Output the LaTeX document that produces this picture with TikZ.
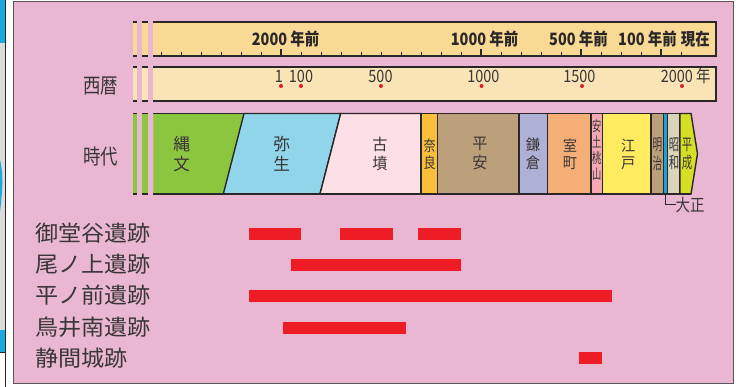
\documentclass[tikz,border=0pt]{standalone}
\usepackage{fontspec}
\setmainfont{Noto Sans CJK JP}
\definecolor{panelpink}{HTML}{E9B7D1}
\definecolor{panelline}{HTML}{5A5458}
\definecolor{topfill}{HTML}{F9DA95}
\definecolor{secfill}{HTML}{FAE4B6}
\definecolor{barline}{HTML}{2B2728}
\definecolor{txt}{HTML}{3A3637}
\definecolor{sitered}{HTML}{EE1C25}
\definecolor{dotred}{HTML}{D81E2C}
\definecolor{cJomon}{HTML}{8CC63F}
\definecolor{cYayoi}{HTML}{90D5E9}
\definecolor{cKofun}{HTML}{FDE0E5}
\definecolor{cNara}{HTML}{F9BE3A}
\definecolor{cHeian}{HTML}{BCA07B}
\definecolor{cKamakura}{HTML}{AFB0D6}
\definecolor{cMuro}{HTML}{F4AE76}
\definecolor{cAzu}{HTML}{F4A8B3}
\definecolor{cEdo}{HTML}{FFEB5F}
\definecolor{cMeiji}{HTML}{BCA07B}
\definecolor{cTaisho}{HTML}{1AA3D6}
\definecolor{cShowa}{HTML}{DCD3BA}
\definecolor{cHeisei}{HTML}{D5DF26}
\definecolor{fragblue}{HTML}{1CA8E0}
\definecolor{fraggray}{HTML}{DCDCDC}
\newcommand\myhs[2]{\scalebox{#1}[1]{#2}}
\newcommand\vtext[4]{\scalebox{#1}[1]{\fontsize{#2}{#3}\selectfont\begin{tabular}{@{}c@{}}#4\end{tabular}}}
\begin{document}
\begin{tikzpicture}[x=1pt,y=-1pt,
  barln/.style={draw=barline,line width=1.8pt},
  sepln/.style={draw=barline,line width=1.4pt},
  toplbl/.style={anchor=west,inner sep=0,text=barline,font=\bfseries\fontsize{17}{17}\selectfont},
  numlbl/.style={inner sep=0,text=txt,font=\fontsize{17}{17}\selectfont},
  rowlbl/.style={inner sep=0,text=txt,font=\fontsize{21}{21}\selectfont},
  sitelbl/.style={anchor=west,inner sep=0,text=txt,font=\fontsize{22}{22}\selectfont},
  ptext/.style={inner sep=0,text=txt},
  sitebar/.style={fill=sitered},
  dot/.style={circle,fill=dotred,inner sep=0,minimum size=4pt}]
\useasboundingbox (0,0) rectangle (744,387);
\fill[white] (0,0) rectangle (744,387);
% fragment of neighbouring picture
\fill[fraggray] (0,0) rectangle (5.5,352);
\fill[fragblue] (0,0) rectangle (5.5,43);
\fill[fragblue] (0,160) .. controls (4,175) and (2,195) .. (0,212) -- cycle;
\fill[fragblue] (0,330) rectangle (4.5,352);
\draw[barline,line width=0.8pt] (0,352) -- (5.5,352);
\draw[barline,line width=1pt] (5.8,0) -- (5.8,387);
% panel
\filldraw[fill=panelpink,draw=panelline,line width=1.2pt] (13.5,1.5) rectangle (733.3,383.5);

% ---- top bar (years before present)
\foreach \a/\b in {133.3/137,142.3/147.8}{
  \fill[topfill] (\a,22) rectangle (\b,56);
  \draw[barln] (\a,22) -- (\b,22) (\a,56) -- (\b,56);
  \fill[secfill] (\a,67) rectangle (\b,101);
  \draw[barln] (\a,67) -- (\b,67) (\a,101) -- (\b,101);
  \fill[cJomon] (\a,113.5) rectangle (\b,194);
  \draw[barln] (\a,113.5) -- (\b,113.5) (\a,194) -- (\b,194);
}
\fill[topfill] (153.3,22) rectangle (716,56);
\draw[barln] (153.3,22) -- (716,22) -- (716,56) -- (153.3,56);
\foreach \i in {0,...,26}{
  \draw[barline,line width=1pt] (161+20*\i,56) -- (161+20*\i,52.5);
}
\foreach \xx in {281,481,581,661}{
  \draw[barline,line width=1.2pt] (\xx,56) -- (\xx,49.5);
}
\node[toplbl] (y2000) at (251.7,39) {\myhs{0.85}{2000 年前}};
\node[toplbl] (y1000) at (450.7,39) {\myhs{0.85}{1000 年前}};
\node[toplbl] (y500) at (549,39) {\myhs{0.85}{500 年前}};
\node[toplbl] (y100) at (618,39) {\myhs{0.85}{100 年前}};
\node[toplbl] (ynow) at (680.7,39) {\myhs{0.85}{現在}};

% ---- second bar (AD)
\fill[secfill] (153.3,67) rectangle (716,101);
\draw[barln] (153.3,67) -- (716,67) -- (716,101) -- (153.3,101);
\node[numlbl] (a1) at (279,76) {\myhs{0.85}{1}};
\node[numlbl] (a100) at (301,76) {\myhs{0.85}{100}};
\node[numlbl] (a500) at (380.5,76) {\myhs{0.85}{500}};
\node[numlbl] (a1000) at (483.3,76) {\myhs{0.85}{1000}};
\node[numlbl] (a1500) at (579.3,76) {\myhs{0.85}{1500}};
\node[numlbl,anchor=west] (a2000) at (660.7,76) {\myhs{0.85}{2000 年}};
\foreach \n/\xx in {d1/281,d100/301,d500/381,d1000/481.5,d1500/582,d2000/682}{
  \node[dot] (\n) at (\xx,86) {};
}

% ---- row labels
\node[rowlbl] (seireki) at (100.8,86.5) {\myhs{0.83}{西暦}};
\node[rowlbl] (jidai) at (100.8,157) {\myhs{0.83}{時代}};

% ---- period blocks
\fill[cJomon] (153.3,113.5) -- (244,113.5) -- (223.3,194) -- (153.3,194) -- cycle;
\draw[sepln,line width=1.8pt] (153.3,113.5) -- (244,113.5) (153.3,194) -- (223.3,194);
\filldraw[fill=cYayoi,sepln] (244,113.5) -- (340.7,113.5) -- (320,194) -- (223.3,194) -- cycle;
\filldraw[fill=cKofun,sepln] (340.7,113.5) -- (421,113.5) -- (421,194) -- (320,194) -- cycle;
\foreach \c/\a/\b in {cNara/421/437.7,cHeian/437.7/519,cKamakura/519/547.3,cMuro/547.3/591,cAzu/591/602.3,cEdo/602.3/651,cMeiji/651/663.3,cTaisho/663.3/667.7,cShowa/667.7/680}{
  \filldraw[fill=\c,sepln] (\a,113.5) rectangle (\b,194);
}
\filldraw[fill=cHeisei,sepln] (680,113.5) -- (691,113.5) -- (697.5,153.7) -- (691,194) -- (680,194) -- cycle;
\draw[barline,line width=1.8pt] (153.3,113.5) -- (691,113.5) (153.3,194) -- (691,194);

\node[ptext] (tJomon) at (181.7,156) {\vtext{0.98}{17}{17}{縄\\文}};
\node[ptext] (tYayoi) at (281.7,156) {\vtext{0.98}{17}{17}{弥\\生}};
\node[ptext] (tKofun) at (380,156) {\vtext{0.95}{16}{17}{古\\墳}};
\node[ptext] (tNara) at (429.5,156) {\vtext{0.8}{15}{16}{奈\\良}};
\node[ptext] (tHeian) at (480,155.5) {\vtext{0.95}{16}{17}{平\\安}};
\node[ptext] (tKamakura) at (533,156) {\vtext{0.95}{15}{17}{鎌\\倉}};
\node[ptext] (tMuro) at (570,156) {\vtext{0.95}{15}{17}{室\\町}};
\node[ptext] (tAzu) at (596.7,152) {\vtext{0.66}{14}{15}{安\\土\\桃\\山}};
\node[ptext] (tEdo) at (628.3,156) {\vtext{0.95}{15}{17}{江\\戸}};
\node[ptext] (tMeiji) at (657.3,156) {\vtext{0.6}{16}{17}{明\\治}};
\node[ptext] (tShowa) at (674,156) {\vtext{0.65}{16}{17}{昭\\和}};
\node[ptext] (tHeisei) at (687,156) {\vtext{0.65}{16}{17}{平\\成}};

% Taisho leader
\coordinate (taishoBottom) at (665.5,194);
\node[ptext,anchor=west,font=\fontsize{17}{17}\selectfont] (taisho) at (675.5,205) {\myhs{0.85}{大正}};
\draw[barline,line width=1pt] (taishoBottom) |- (taisho.west);

% ---- sites
\node[sitelbl] (s1) at (35.3,233.5) {\myhs{1.05}{御堂谷遺跡}};
\node[sitelbl] (s2) at (35.3,264.5) {\myhs{1.05}{尾ノ上遺跡}};
\node[sitelbl] (s3) at (35.3,295.5) {\myhs{1.05}{平ノ前遺跡}};
\node[sitelbl] (s4) at (35.3,327) {\myhs{1.05}{鳥井南遺跡}};
\node[sitelbl] (s5) at (35.3,358) {\myhs{1.05}{静間城跡}};
\fill[sitebar] (248.9,228) rectangle (300.9,239.7);
\fill[sitebar] (340.3,228) rectangle (393.1,239.7);
\fill[sitebar] (418.4,228) rectangle (460.5,239.7);
\fill[sitebar] (291,259) rectangle (460.9,270.7);
\fill[sitebar] (248.9,290) rectangle (612.4,301.7);
\fill[sitebar] (282.9,322) rectangle (406.2,333.7);
\fill[sitebar] (579.1,352) rectangle (602.1,363.7);
\end{tikzpicture}
\end{document}
